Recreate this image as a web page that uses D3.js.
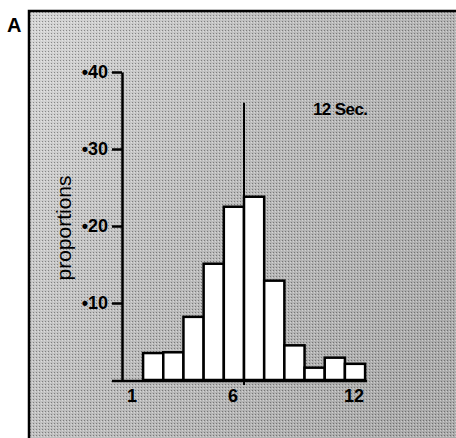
<!DOCTYPE html>
<html>
<head>
<meta charset="utf-8">
<script src="https://cdn.jsdelivr.net/npm/d3@7"></script>
<style>
  body { margin: 0; background: #fff; }
  svg { display: block; font-family: "Liberation Sans", Arial, sans-serif; }
</style>
</head>
<body>
<div id="chart"></div>
<script>
// histogram of responses, 12 sec condition
const bins = [2, 3, 4, 5, 6, 7, 8, 9, 10, 11, 12];
const proportions = [0.035, 0.036, 0.082, 0.151, 0.225, 0.238, 0.129, 0.045, 0.016, 0.029, 0.021];
const yTicks = [0.10, 0.20, 0.30, 0.40];
const xTicks = [1, 6, 12];
const meanValue = 6.5;
const meanHeight = 0.36;

const width = 456;
const height = 438;

const x = d3.scaleLinear()
      .domain([1, 12])
      .range([133, 355]);

const y = d3.scaleLinear()
      .domain([0, 0.4])
      .range([380, 72]);

const svg = d3.select("#chart").append("svg")
      .attr("width", width)
      .attr("height", height)
      .attr("viewBox", [0, 0, width, height]);

const defs = svg.append("defs");
const grad = defs.append("linearGradient")
      .attr("id", "bg")
      .attr("x1", 0).attr("y1", 0).attr("x2", 1).attr("y2", 0.5);
grad.append("stop").attr("offset", "0%").attr("stop-color", "#d6d6d6");
grad.append("stop").attr("offset", "45%").attr("stop-color", "#bdbdbd");
grad.append("stop").attr("offset", "100%").attr("stop-color", "#ababab");

// fine halftone-like speckle over the panel
const pat = defs.append("pattern")
      .attr("id", "dots")
      .attr("width", 3).attr("height", 3)
      .attr("patternUnits", "userSpaceOnUse");
pat.append("rect").attr("width", 1).attr("height", 1).attr("fill", "#000").attr("opacity", 0.35);
pat.append("rect").attr("x", 2).attr("y", 1).attr("width", 1).attr("height", 1).attr("fill", "#fff").attr("opacity", 0.4);

// framed panel, runs off the right and bottom edges
svg.append("rect")
    .attr("x", 29).attr("y", 11)
    .attr("width", width).attr("height", height)
    .attr("fill", "url(#bg)");
svg.append("rect")
    .attr("x", 29).attr("y", 11)
    .attr("width", width).attr("height", height)
    .attr("fill", "url(#dots)")
    .attr("stroke", "#000")
    .attr("stroke-width", 2.5);

svg.append("text")
    .attr("x", 7).attr("y", 32)
    .attr("font-size", 20)
    .attr("font-weight", "bold")
    .text("A");

// bars
const bw = x(2) - x(1);
svg.append("g")
    .selectAll("rect")
    .data(bins)
    .join("rect")
    .attr("x", d => x(d) - bw / 2)
    .attr("y", (d, i) => y(proportions[i]))
    .attr("width", bw)
    .attr("height", (d, i) => y(0) - y(proportions[i]))
    .attr("fill", "#fff")
    .attr("stroke", "#000")
    .attr("stroke-width", 2.5);

// y axis
const yAxis = g => g
      .attr("transform", `translate(122,0)`)
      .call(d3.axisLeft(y)
            .tickValues(yTicks)
            .tickSize(10)
            .tickSizeOuter(0)
            .tickPadding(4)
            .tickFormat(d => "\u2022" + d3.format(".2f")(d).slice(2)))
      .call(g => g.selectAll("line, path").attr("stroke", "#000").attr("stroke-width", 2.5))
      .call(g => g.selectAll("text")
            .attr("font-size", 18)
            .attr("font-weight", "bold")
            .attr("fill", "#000")
            .attr("font-family", "Liberation Sans, Arial, sans-serif"));

svg.append("g").call(yAxis);

// baseline
svg.append("line")
    .attr("x1", 112).attr("x2", x(12.6))
    .attr("y1", y(0) + 1).attr("y2", y(0) + 1)
    .attr("stroke", "#000")
    .attr("stroke-width", 2.5);

// x tick labels
svg.append("g")
    .selectAll("text")
    .data(xTicks)
    .join("text")
    .attr("x", d => x(d) - 1)
    .attr("y", 402)
    .attr("text-anchor", "middle")
    .attr("font-size", 18)
    .attr("font-weight", "bold")
    .text(d => d);

// mean line
svg.append("line")
    .attr("x1", x(meanValue)).attr("x2", x(meanValue))
    .attr("y1", y(meanHeight)).attr("y2", y(0) + 5)
    .attr("stroke", "#000")
    .attr("stroke-width", 2);

svg.append("text")
    .attr("x", 313).attr("y", 115)
    .attr("font-size", 17)
    .attr("font-weight", "bold")
    .attr("letter-spacing", -0.6)
    .text("12 Sec.");

svg.append("text")
    .attr("transform", "translate(71,228) rotate(-90)")
    .attr("text-anchor", "middle")
    .attr("font-size", 21)
    .text("proportions");
</script>
</body>
</html>
